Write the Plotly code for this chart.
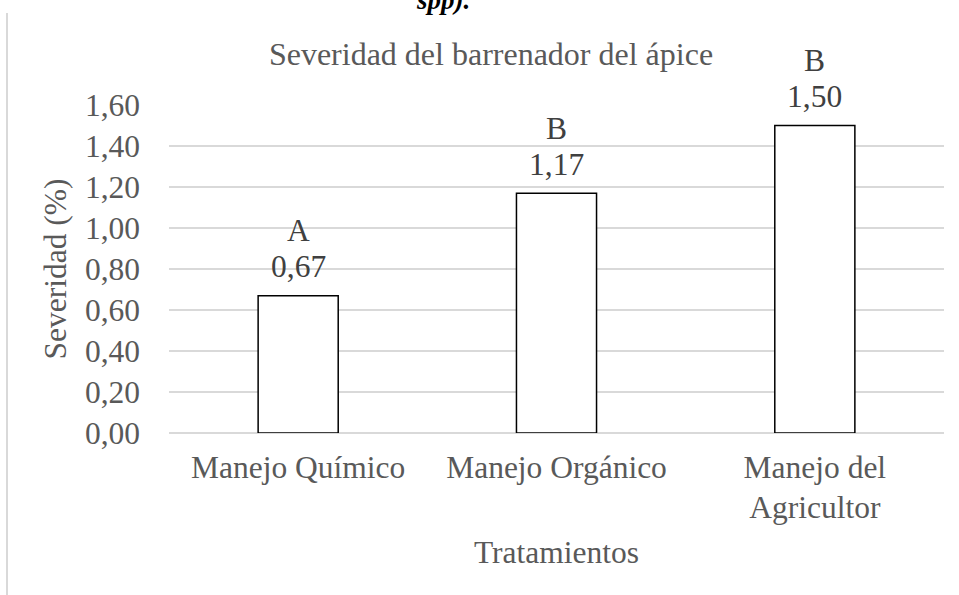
import plotly.graph_objects as go

categories = ["Manejo Químico", "Manejo Orgánico", "Manejo del<br>Agricultor"]
values = [0.67, 1.17, 1.50]
value_labels = ["0,67", "1,17", "1,50"]
letters = ["A", "B", "B"]
tick_vals = [0, 0.2, 0.4, 0.6, 0.8, 1.0, 1.2, 1.4, 1.6]
tick_text = ["0,00", "0,20", "0,40", "0,60", "0,80", "1,00", "1,20", "1,40", "1,60"]

FONT = "Liberation Serif"
GRAY = "#595959"
FS = 31.5
W, H = 959, 595
L, R, T, B = 169, 15, 105, 162
PH = H - T - B
PW = W - L - R

fig = go.Figure()
fig.add_trace(go.Bar(
    x=categories, y=values,
    marker=dict(color="white", line=dict(color="black", width=1.5)),
    width=0.31,
    hoverinfo="skip",
))

for c, v, vl, lt in zip(categories, values, value_labels, letters):
    fig.add_annotation(x=c, y=v, text=vl, showarrow=False, yanchor="middle",
                       yshift=29, font=dict(family=FONT, size=FS, color="#404040"))
    fig.add_annotation(x=c, y=v, text=lt, showarrow=False, yanchor="middle",
                       yshift=65, font=dict(family=FONT, size=FS, color="#404040"))

# cut-off caption text at top
fig.add_annotation(xref="paper", yref="paper", x=(443 - L) / PW, y=1 + (T - 17) / PH,
                   text="<b><i>spp).</i></b>", showarrow=False, yanchor="bottom",
                   xanchor="center", font=dict(family=FONT, size=27, color="black"))

# left border line
fig.add_shape(type="line", xref="paper", yref="paper",
              x0=(7 - L) / PW, x1=(7 - L) / PW,
              y0=-(B) / PH, y1=1 + (T - 13) / PH,
              line=dict(color="#d9d9d9", width=2))

fig.update_layout(
    width=W, height=H,
    margin=dict(l=L, r=R, t=T, b=B),
    paper_bgcolor="white", plot_bgcolor="white",
    showlegend=False,
    font=dict(family=FONT, size=FS, color=GRAY),
    title=dict(text="Severidad del barrenador del ápice", x=491 / W, xanchor="center",
               y=1 - 54 / H, yanchor="middle", yref="container",
               font=dict(family=FONT, size=32, color=GRAY)),
    bargap=0.69,
    xaxis=dict(
        showgrid=False, showline=False, zeroline=False, ticks="",
        ticklabelstandoff=12,
        tickfont=dict(family=FONT, size=FS, color=GRAY),
        title=dict(text="Tratamientos", font=dict(family=FONT, size=FS, color=GRAY), standoff=16),
    ),
    yaxis=dict(
        range=[0, 1.6], tickvals=tick_vals, ticktext=tick_text,
        showgrid=True, gridcolor="#d9d9d9", gridwidth=1.5,
        zeroline=True, zerolinecolor="#d9d9d9", zerolinewidth=1.5,
        showline=False, ticks="", ticklabelstandoff=28,
        tickfont=dict(family=FONT, size=FS, color=GRAY),
        title=dict(text="Severidad (%)", font=dict(family=FONT, size=FS, color=GRAY), standoff=8),
    ),
)

fig.write_html("out.html", config={"displayModeBar": False},
               post_script="document.body.style.margin='0';document.body.style.overflow='hidden';")
